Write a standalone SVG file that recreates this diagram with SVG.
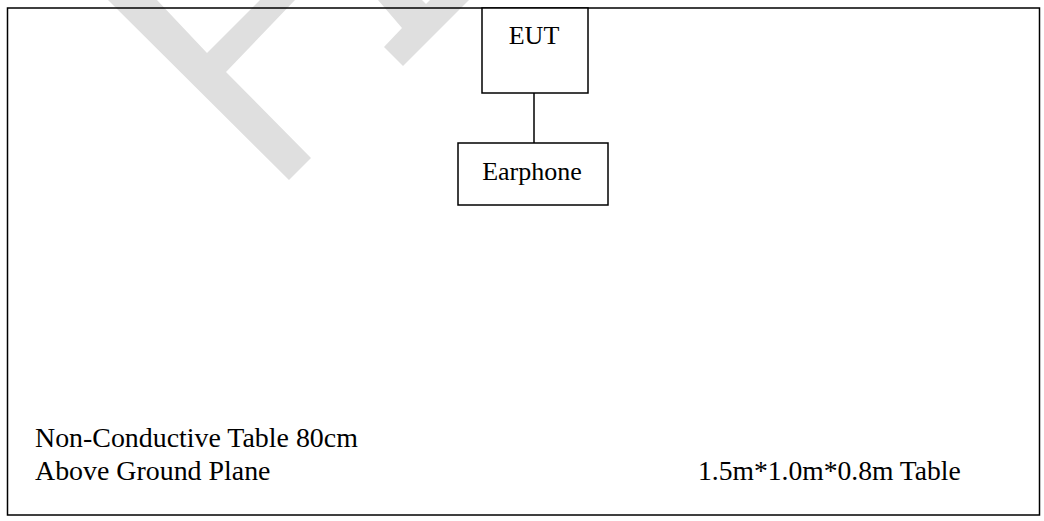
<svg xmlns="http://www.w3.org/2000/svg" width="1044" height="521" viewBox="0 0 1044 521">
<style>
.box{fill:#ffffff;stroke:#000000;stroke-width:1.5}
.lbl{font-family:"Liberation Serif","Times New Roman",serif;fill:#000000}
.wm{fill:#dfdfdf;stroke:none}
.conn{stroke:#000000;stroke-width:1.5;fill:none}
</style>
<rect x="0" y="0" width="1044" height="521" fill="#ffffff"/>
<g id="watermark">
<polygon class="wm" points="108,0 157,0 207,53 260,0 295,0 226,72 311,158 289,180"/>
<polygon class="wm" points="378,0 422,0 426,4 430,0 469,0 403,66 384,47 402,28"/>
</g>
<g id="table">
<rect x="7.5" y="8" width="1032" height="507" fill="none" stroke="#000000" stroke-width="1.5"/>
<text class="lbl" x="35" y="447" font-size="27.9">Non-Conductive Table 80cm</text>
<text class="lbl" x="35" y="480" font-size="27.9">Above Ground Plane</text>
<text class="lbl" x="698" y="480" font-size="27.6">1.5m*1.0m*0.8m Table</text>
</g>
<g id="connectors">
<line class="conn" x1="534" y1="93" x2="534" y2="143"/>
</g>
<g id="eut">
<rect class="box" x="482" y="8" width="106" height="85"/>
<text class="lbl" x="534" y="44" font-size="26" text-anchor="middle">EUT</text>
</g>
<g id="earphone">
<rect class="box" x="458" y="143" width="150" height="62"/>
<text class="lbl" x="532" y="180" font-size="26" text-anchor="middle">Earphone</text>
</g>
</svg>
